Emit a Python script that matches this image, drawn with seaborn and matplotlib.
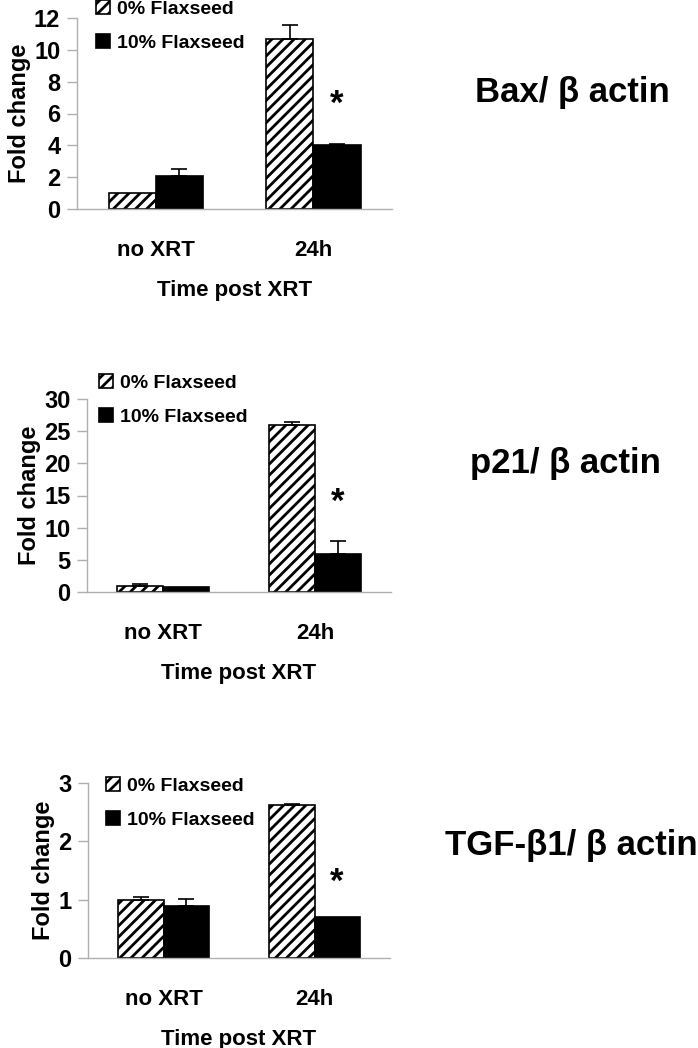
import pandas as pd
import matplotlib
matplotlib.use('Agg')
import matplotlib.pyplot as plt
import seaborn as sns

# dados
grupos = ['no XRT', '24h']
dietas = ['0% Flaxseed', '10% Flaxseed']

bax_0 = [1.0, 10.7]
bax_10 = [2.05, 4.0]
bax_err_0 = [0.0, 0.85]
bax_err_10 = [0.45, 0.08]

p21_0 = [0.98, 25.9]
p21_10 = [0.78, 5.95]
p21_err_0 = [0.2, 0.45]
p21_err_10 = [0.0, 1.95]

tgf_0 = [0.99, 2.62]
tgf_10 = [0.90, 0.70]
tgf_err_0 = [0.05, 0.02]
tgf_err_10 = [0.12, 0.0]

titulos = ['Bax/ β actin', 'p21/ β actin', 'TGF-β1/ β actin']
ymax = [12, 30, 3]
ypasso = [2, 5, 1]
estrela_y = [6.6, 14.0, 1.29]

sns.set_style('white')
plt.rcParams['font.family'] = ['Liberation Sans', 'DejaVu Sans']
plt.rcParams['font.weight'] = 'bold'
plt.rcParams['hatch.linewidth'] = 2.0
plt.rcParams['text.color'] = 'black'
plt.rcParams['axes.labelcolor'] = 'black'
plt.rcParams['xtick.labelcolor'] = 'black'
plt.rcParams['ytick.labelcolor'] = 'black'

W, H = 698, 1048
fig = plt.figure(figsize=(W / 100, H / 100), dpi=100)

# caixas em pixels: esquerda, direita, topo, base
caixas = [(77, 392, 18, 209), (87, 391, 399, 592), (88, 390, 783, 958)]
legendas = [(96, 0), (99, 374), (106, 777)]
titulo_pos = [(475, 102), (470, 473), (445, 855)]

paineis = [
    (bax_0, bax_10, bax_err_0, bax_err_10),
    (p21_0, p21_10, p21_err_0, p21_err_10),
    (tgf_0, tgf_10, tgf_err_0, tgf_err_10),
]

for i, (v0, v10, e0, e10) in enumerate(paineis):
    l, r, t, b = caixas[i]
    ax = fig.add_axes([l / W, 1 - b / H, (r - l) / W, (b - t) / H])

    df = pd.DataFrame({
        'grupo': grupos * 2,
        'dieta': [dietas[0]] * 2 + [dietas[1]] * 2,
        'valor': v0 + v10,
        'erro': e0 + e10,
    })
    sns.barplot(data=df, x='grupo', y='valor', hue='dieta', order=grupos,
                hue_order=dietas, palette=['white', 'black'], width=0.6,
                errorbar=None, edgecolor='black', linewidth=1.2, ax=ax,
                legend=False, saturation=1)

    barras = ax.patches[:4]
    for k, p in enumerate(barras):
        if k < 2:
            p.set_hatch('///')
    # barras de erro (so para cima)
    erros = e0 + e10
    for p, err in zip(barras, erros):
        if err > 0:
            xc = p.get_x() + p.get_width() / 2
            ax.errorbar(xc, p.get_height(), yerr=[[0], [err]], fmt='none',
                        ecolor='black', elinewidth=1.2, capsize=6, capthick=1.2)

    # asterisco acima da barra preta em 24h
    p = barras[3]
    ax.text(p.get_x() + p.get_width() / 2, estrela_y[i], '*', ha='center',
            va='center', fontsize=25, fontweight='bold')

    ax.set_xlim(-0.5, 1.5)
    ax.set_ylim(0, ymax[i])
    ax.set_yticks(range(0, ymax[i] + 1, ypasso[i]))
    ax.set_xticks([0, 1])
    ax.set_xticklabels(grupos)
    ax.set_xticks([-0.5, 0.5, 1.5], minor=True)
    ax.tick_params(axis='x', which='major', length=0, pad=22, labelsize=16)
    ax.tick_params(axis='x', which='minor', length=8, color='#b0b0b0', width=1)
    ax.tick_params(axis='y', length=7, color='#b0b0b0', width=1, labelsize=17,
                   pad=5, left=True)
    for s in ['top', 'right']:
        ax.spines[s].set_visible(False)
    for s in ['left', 'bottom']:
        ax.spines[s].set_color('#b0b0b0')
        ax.spines[s].set_linewidth(1)

    ax.set_xlabel('Time post XRT', fontsize=16, fontweight='bold', labelpad=14)
    ax.set_ylabel('Fold change', fontsize=17, fontweight='bold', labelpad=2)

    lx, ly = legendas[i]
    ax.legend(handles=barras[::2], labels=dietas, loc='upper left',
              bbox_to_anchor=(lx / W, 1 - ly / H), bbox_transform=fig.transFigure,
              frameon=False, fontsize=14, borderpad=0, handlelength=0.7,
              handleheight=0.7, handletextpad=0.4, labelspacing=0.85,
              borderaxespad=0)

    tx, ty = titulo_pos[i]
    fig.text(tx / W, 1 - ty / H, titulos[i], ha='left', va='baseline',
             fontsize=25, fontweight='bold')

fig.savefig('out.png', dpi=100)
